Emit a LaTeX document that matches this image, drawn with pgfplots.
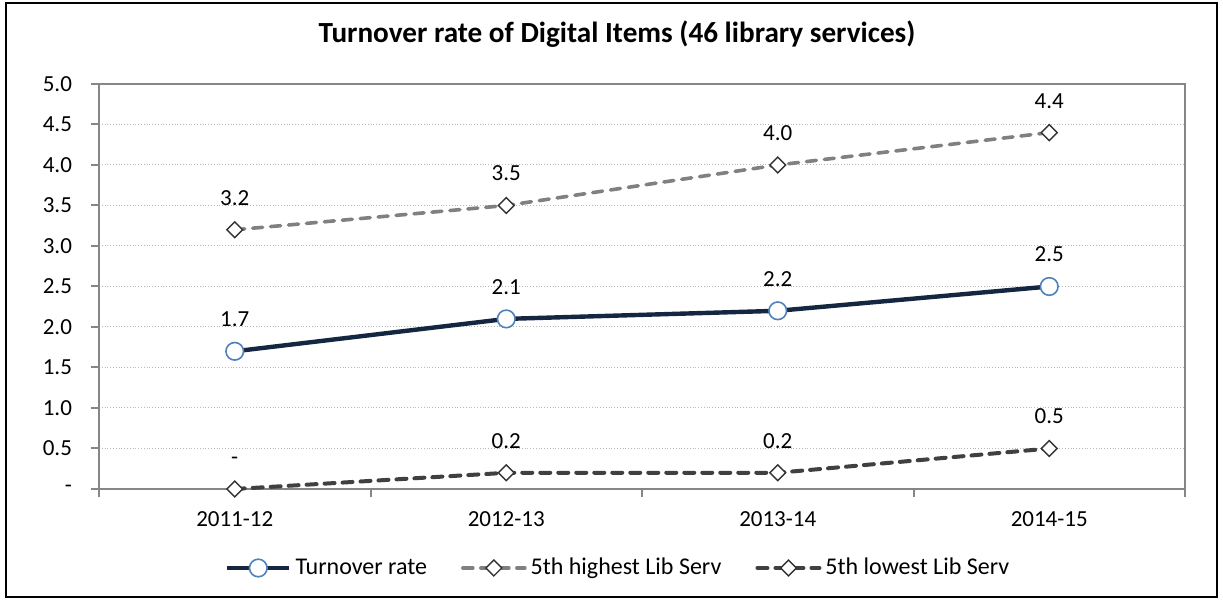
\documentclass[border=0pt]{standalone}
\usepackage{fontspec}
\setmainfont{Carlito}
\usepackage{pgfplots}
\pgfplotsset{compat=1.18}
\definecolor{navy}{RGB}{20,38,64}
\definecolor{mkblue}{RGB}{79,129,189}
\definecolor{axgray}{RGB}{134,134,134}
\definecolor{hiGray}{RGB}{128,128,128}
\definecolor{loGray}{RGB}{64,64,64}
\begin{document}
\begin{tikzpicture}[font=\fontsize{11.5}{13}\selectfont]
\path[use as bounding box] (0,0) rectangle (611.5pt,300pt);
\draw[line width=1.25pt] (3pt,1.5pt) rectangle (608.5pt,298.5pt);
\node[font=\fontsize{14.6}{16}\selectfont\bfseries] at (308.5pt,283pt)
    {Turnover rate of Digital Items (46 library services)};
\begin{axis}[
    at={(49.5pt,55.5pt)}, anchor=south west,
    scale only axis,
    width=543pt, height=202.5pt,
    xmin=-0.5, xmax=3.5,
    ymin=0, ymax=5,
    clip=false,
    xtick={0,1,2,3},
    xticklabels={2011-12,2012-13,2013-14,2014-15},
    minor xtick={-0.5,0.5,1.5,2.5,3.5},
    ytick={0,0.5,1,1.5,2,2.5,3,3.5,4,4.5,5},
    yticklabels={-,0.5,1.0,1.5,2.0,2.5,3.0,3.5,4.0,4.5,5.0},
    /pgf/number format/assume math mode=true,
    tick align=outside,
    major tick length=4pt, minor tick length=4pt,
    major x tick style={draw=none},
    xtick pos=bottom, ytick pos=left,
    tick style={axgray, line width=1pt},
    axis line style={axgray, line width=1pt},
    ymajorgrids,
    grid style={densely dotted, gray!55, line width=0.5pt},
    yticklabel style={xshift=-6pt},
    xticklabel style={yshift=-4pt},
    legend columns=3,
    legend cell align=left,
    legend style={draw=none, at={(0.479,-0.195)}, anchor=center,
        font=\fontsize{12}{14}\selectfont,
        /tikz/every even column/.append style={column sep=15pt},
        nodes={inner xsep=2pt}},
    legend image code/.code={\draw[mark repeat=2,mark phase=2] plot coordinates {(0pt,0pt) (15.5pt,0pt) (31pt,0pt)};},
    nodes near coords,
    point meta=explicit symbolic,
    every node near coord/.append style={anchor=base, yshift=12.25pt, text=black, font=\fontsize{11.5}{13}\selectfont},
]
% Turnover rate
\addplot[navy, line width=2.2pt, mark=*, mark size=4.4pt,
    mark options={solid, fill=white, draw=mkblue, line width=0.8pt}]
    coordinates {(0,1.7) [1.7] (1,2.1) [2.1] (2,2.2) [2.2] (3,2.5) [2.5]};
% 5th highest
\addplot[hiGray, line width=1.8pt, line cap=round, dash pattern=on 5pt off 4pt,
    mark=square*, mark size=2.8pt,
    mark options={solid, rotate=45, fill=white, draw=black!80, line width=0.7pt}]
    coordinates {(0,3.2) [3.2] (1,3.5) [3.5] (2,4.0) [4.0] (3,4.4) [4.4]};
% 5th lowest
\addplot[loGray, line width=2pt, line cap=round, dash pattern=on 5pt off 4pt,
    mark=square*, mark size=2.8pt,
    mark options={solid, rotate=45, fill=white, draw=black!80, line width=0.7pt}]
    coordinates {(0,0) [-] (1,0.2) [0.2] (2,0.2) [0.2] (3,0.5) [0.5]};
\legend{Turnover rate, 5th highest Lib Serv, 5th lowest Lib Serv}
\end{axis}
\end{tikzpicture}
\end{document}
